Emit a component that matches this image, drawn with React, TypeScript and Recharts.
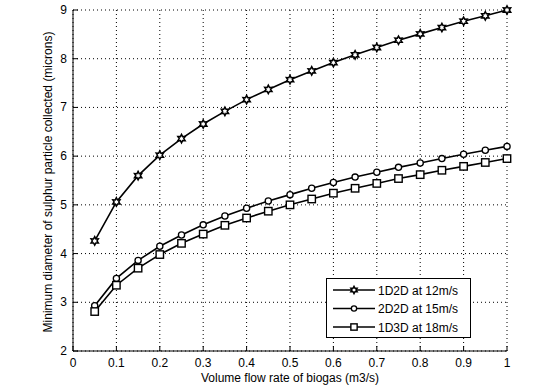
import React from "react";
import { LineChart, Line, XAxis, YAxis, CartesianGrid } from "recharts";

const flowRates = [
  0.05, 0.1, 0.15, 0.2, 0.25, 0.3, 0.35, 0.4, 0.45, 0.5,
  0.55, 0.6, 0.65, 0.7, 0.75, 0.8, 0.85, 0.9, 0.95, 1,
];
const d1D2D = [
  4.26, 5.06, 5.6, 6.02, 6.36, 6.66, 6.92, 7.16, 7.37, 7.57,
  7.75, 7.92, 8.08, 8.23, 8.38, 8.51, 8.64, 8.77, 8.88, 9.0,
];
const d2D2D = [
  2.93, 3.49, 3.86, 4.15, 4.38, 4.59, 4.77, 4.93, 5.08, 5.21,
  5.34, 5.46, 5.57, 5.67, 5.77, 5.86, 5.95, 6.04, 6.12, 6.2,
];
const d1D3D = [
  2.81, 3.35, 3.7, 3.98, 4.21, 4.4, 4.58, 4.73, 4.87, 5.0,
  5.12, 5.24, 5.34, 5.44, 5.54, 5.62, 5.71, 5.79, 5.87, 5.95,
];
const xTicks = [0, 0.1, 0.2, 0.3, 0.4, 0.5, 0.6, 0.7, 0.8, 0.9, 1];
const yTicks = [2, 3, 4, 5, 6, 7, 8, 9];
const seriesNames = ["1D2D at 12m/s", "2D2D at 15m/s", "1D3D at 18m/s"];

const data = flowRates.map((q, i) => ({
  q,
  a: d1D2D[i],
  b: d2D2D[i],
  c: d1D3D[i],
}));

const font = "'Liberation Sans', Arial, sans-serif";

function Hexagram({ cx, cy, s = 1 }: { cx: number; cy: number; s?: number }) {
  const pts: string[] = [];
  for (let k = 0; k < 12; k++) {
    const r = (k % 2 === 0 ? 4.2 : 2.3) * s;
    const a = (Math.PI / 6) * k - Math.PI / 2;
    pts.push(`${cx + r * Math.cos(a)},${cy + r * Math.sin(a)}`);
  }
  return <polygon points={pts.join(" ")} fill="#fff" stroke="#000" strokeWidth={1.5} />;
}

function Circ({ cx, cy, s = 1 }: { cx: number; cy: number; s?: number }) {
  return <circle cx={cx} cy={cy} r={3.1 * s} fill="#fff" stroke="#000" strokeWidth={1.3} />;
}

function Sq({ cx, cy, s = 1 }: { cx: number; cy: number; s?: number }) {
  const h = 3.7 * s;
  return <rect x={cx - h} y={cy - h} width={2 * h} height={2 * h} fill="#fff" stroke="#000" strokeWidth={1.4} />;
}

const markers = [Hexagram, Circ, Sq];

const XTick = (props: any) => {
  const { x, y, payload } = props;
  return (
    <g>
      <line x1={x} x2={x} y1={y} y2={y - 5} stroke="#000" />
      <text x={x} y={y + 16} textAnchor="middle" fontSize={12} fontFamily={font} fill="#000">
        {String(payload.value)}
      </text>
    </g>
  );
};

const YTick = (props: any) => {
  const { x, y, payload } = props;
  return (
    <g>
      <line x1={x} x2={x + 5} y1={y} y2={y} stroke="#000" />
      <text x={x - 6} y={y + 4} textAnchor="end" fontSize={12} fontFamily={font} fill="#000">
        {String(payload.value)}
      </text>
    </g>
  );
};

export default function App() {
  const keys = ["a", "b", "c"];
  return (
    <div style={{ position: "relative", width: 560, height: 388, background: "#fff" }}>
      <style>{"body{margin:0;background:#fff}"}</style>
      <LineChart width={560} height={388} data={data} margin={{ top: 10, right: 53, bottom: 0, left: 0 }}>
        <CartesianGrid stroke="#000" strokeDasharray="1 3" strokeWidth={1} />
        <XAxis
          dataKey="q"
          type="number"
          domain={[0, 1]}
          ticks={xTicks}
          height={37}
          tickSize={0}
          tickMargin={0}
          tickLine={false}
          axisLine={{ stroke: "#000" }}
          tick={<XTick />}
          interval={0}
        />
        <YAxis
          type="number"
          domain={[2, 9]}
          ticks={yTicks}
          width={73}
          tickSize={0}
          tickMargin={0}
          tickLine={false}
          axisLine={{ stroke: "#000" }}
          tick={<YTick />}
          interval={0}
        />
        {keys.map((k, si) => {
          const M = markers[si];
          return (
            <Line
              key={k}
              dataKey={k}
              stroke="#000"
              strokeWidth={1.6}
              isAnimationActive={false}
              dot={(p: any) => <M key={`${k}-${p.index}`} cx={p.cx} cy={p.cy} />}
              activeDot={false}
            />
          );
        })}
      </LineChart>
      <svg width={560} height={388} style={{ position: "absolute", left: 0, top: 0, pointerEvents: "none" }}>
        <text
          x={52}
          y={182}
          transform="rotate(-90 52 182)"
          textAnchor="middle"
          fontSize={12}
          fontFamily={font}
          fill="#000"
        >
          Minimum diameter of sulphur particle collected (microns)
        </text>
        <text x={290} y={382} textAnchor="middle" fontSize={12} fontFamily={font} fill="#000">
          Volume flow rate of biogas (m3/s)
        </text>
        <rect x={326.5} y={278.5} width={144} height={59} fill="#fff" stroke="#000" />
        {seriesNames.map((name, i) => {
          const M = markers[i];
          const y = 290 + i * 18.5;
          return (
            <g key={name}>
              <line x1={333} x2={375} y1={y} y2={y} stroke="#000" strokeWidth={1.6} />
              <M cx={354} cy={y} s={0.85} />
              <text x={378} y={y + 4.5} fontSize={12} fontFamily={font} fill="#000">
                {name}
              </text>
            </g>
          );
        })}
      </svg>
    </div>
  );
}
